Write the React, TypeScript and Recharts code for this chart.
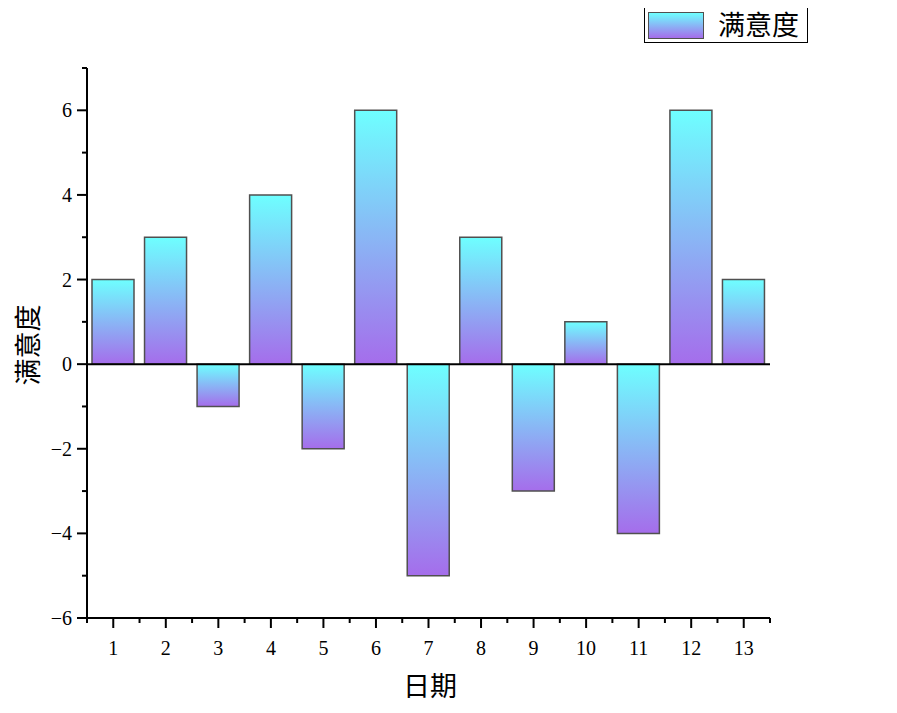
import React from 'react';
import { BarChart, Bar, XAxis, YAxis, ReferenceLine } from 'recharts';

const days = ['1', '2', '3', '4', '5', '6', '7', '8', '9', '10', '11', '12', '13'];
const satisfaction = [2, 3, -1, 4, -2, 6, -5, 3, -3, 1, -4, 6, 2];
const yTicks = [-6, -5, -4, -3, -2, -1, 0, 1, 2, 3, 4, 5, 6, 7];
const seriesName = '满意度';
const xTitle = '日期';

const data = days.map((d, i) => ({ day: d, value: satisfaction[i] }));

const tickFont = '"Liberation Serif", "DejaVu Serif", serif';
const cjkFont = '"Noto Sans CJK SC", sans-serif';

const XTick = (props: any) => {
  const { x, y, payload, index, visibleTicksCount } = props;
  const half = payload.offset || 0;
  const y0 = y - 8;
  return (
    <g>
      <line x1={x} y1={y0} x2={x} y2={y0 + 10} stroke="#000" strokeWidth={2} />
      <line x1={x - half} y1={y0} x2={x - half} y2={y0 + 5} stroke="#000" strokeWidth={2} />
      {index === visibleTicksCount - 1 && (
        <line x1={x + half} y1={y0} x2={x + half} y2={y0 + 5} stroke="#000" strokeWidth={2} />
      )}
      <text x={x} y={y0 + 37} textAnchor="middle" fontFamily={tickFont} fontSize={20} fill="#000">
        {payload.value}
      </text>
    </g>
  );
};

const YTick = (props: any) => {
  const { x, y, payload } = props;
  const v = payload.value as number;
  const major = v % 2 === 0;
  const x0 = x + 8;
  return (
    <g>
      <line x1={x0} y1={y} x2={x0 - (major ? 10 : 5)} y2={y} stroke="#000" strokeWidth={2} />
      {major && (
        <text x={x0 - 15} y={y + 7} textAnchor="end" fontFamily={tickFont} fontSize={20} fill="#000">
          {v < 0 ? '\u2212' + Math.abs(v) : String(v)}
        </text>
      )}
    </g>
  );
};

export default function App() {
  return (
    <div style={{ position: 'relative', width: 880, height: 700 }}>
      <BarChart
        width={880}
        height={700}
        data={data}
        margin={{ top: 60, right: 118, left: 29, bottom: 50 }}
      >
        <defs>
          <linearGradient id="barGrad" x1="0" y1="0" x2="0" y2="1">
            <stop offset="0%" stopColor="#6EFFFF" />
            <stop offset="100%" stopColor="#A56DEB" />
          </linearGradient>
        </defs>
        <XAxis
          dataKey="day"
          interval={0}
          tickLine={false}
          tick={<XTick />}
          axisLine={{ stroke: '#000', strokeWidth: 2 }}
          height={40}
        />
        <YAxis
          domain={[-6, 7]}
          ticks={yTicks}
          interval={0}
          tickLine={false}
          tick={<YTick />}
          axisLine={{ stroke: '#000', strokeWidth: 2 }}
          width={50}
          allowDataOverflow
        />
        <ReferenceLine y={0} stroke="#000" strokeWidth={2} />
        <Bar
          dataKey="value"
          barSize={42}
          fill="url(#barGrad)"
          stroke="#505050"
          strokeWidth={1.5}
          isAnimationActive={false}
        />
      </BarChart>
      <div
        style={{
          position: 'absolute',
          left: 18,
          top: 337,
          transform: 'translate(-50%, -50%) rotate(-90deg)',
          fontFamily: cjkFont,
          fontSize: 27,
          whiteSpace: 'nowrap',
          lineHeight: 1,
        }}
      >
        {seriesName}
      </div>
      <div
        style={{
          position: 'absolute',
          left: 422,
          top: 676,
          transform: 'translate(-50%, -50%)',
          fontFamily: cjkFont,
          fontSize: 27,
          whiteSpace: 'nowrap',
          lineHeight: 1,
        }}
      >
        {xTitle}
      </div>
      <div
        style={{
          position: 'absolute',
          left: 636,
          top: -3,
          width: 164,
          height: 38,
          border: '1.5px solid #000',
          boxSizing: 'border-box',
          background: '#fff',
        }}
      >
        <div
          style={{
            position: 'absolute',
            left: 3,
            top: 6,
            width: 56,
            height: 27,
            background: 'linear-gradient(#6EFFFF, #A56DEB)',
            border: '1.5px solid #505050',
            boxSizing: 'border-box',
          }}
        />
        <div
          style={{
            position: 'absolute',
            left: 73,
            top: 3,
            fontFamily: cjkFont,
            fontSize: 27,
            lineHeight: '30px',
            whiteSpace: 'nowrap',
          }}
        >
          {seriesName}
        </div>
      </div>
    </div>
  );
}
